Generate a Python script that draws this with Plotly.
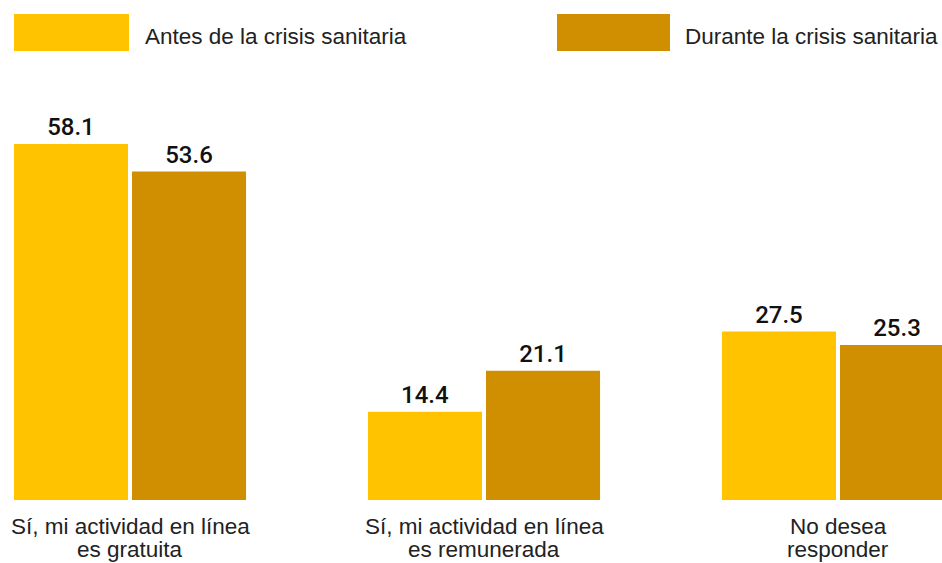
import plotly.graph_objects as go

category_lines = [["Sí, mi actividad en línea", "es gratuita"],
                  ["Sí, mi actividad en línea", "es remunerada"],
                  ["No desea", "responder"]]
categories = [" ".join(lines) for lines in category_lines]
antes = [58.1, 14.4, 27.5]
durante = [53.6, 21.1, 25.3]
series_names = ["Antes de la crisis sanitaria", "Durante la crisis sanitaria"]
colors = ["#FFC300", "#D08F00"]

W, H = 942, 563
PH = 500  # plot height (baseline at y=500)
FONT = "Liberation Sans, Arial, sans-serif"

fig = go.Figure()
for name, vals, col in zip(series_names, [antes, durante], colors):
    fig.add_trace(go.Bar(
        x=categories, y=vals, name=name, marker=dict(color=col, line=dict(width=0)),
        text=[f"{v:.1f}" for v in vals], textposition="outside",
        textfont=dict(family="Roboto, Liberation Sans, sans-serif", size=24,
                      color="#111111", weight=500),
        cliponaxis=False, showlegend=False,
    ))

r0 = -130 / 354
fig.update_layout(
    width=W, height=H,
    margin=dict(l=0, r=0, t=0, b=H - PH),
    plot_bgcolor="white", paper_bgcolor="white",
    barmode="group", bargap=0.333, bargroupgap=0.034,
    font=dict(family=FONT, size=22, color="#222222"),
    xaxis=dict(range=[r0, r0 + W / 354], showgrid=False, showline=False,
               showticklabels=False, ticks=""),
    yaxis=dict(range=[0, PH / 6.127], visible=False),
)

# category labels, one annotation per line (tight line spacing)
for cat, lines in zip(categories, category_lines):
    for i, line in enumerate(lines):
        py = 526 + 23 * i
        fig.add_annotation(xref="x", yref="paper", x=cat, y=1 - py / PH,
                           text=line, showarrow=False, xanchor="center",
                           yanchor="middle",
                           font=dict(family=FONT, size=22.5, color="#222222"))

# legend drawn as shapes + annotations (large swatches)
legend_items = [(14, 129, 143), (557, 670, 683)]
for (x0, x1, tx), name, col in zip(legend_items, series_names, colors):
    fig.add_shape(type="rect", xref="paper", yref="paper",
                  x0=x0 / W, x1=x1 / W, y0=1 - 51 / PH, y1=1 - 14 / PH,
                  fillcolor=col, line=dict(width=0))
    fig.add_annotation(xref="paper", yref="paper", x=tx / W, y=1 - 37 / PH,
                       text=name, showarrow=False, xanchor="left", yanchor="middle",
                       font=dict(family=FONT, size=22.5, color="#222222"))

fig.write_html("out.html", config={"displayModeBar": False},
               post_script="document.body.style.margin='0';document.body.style.overflow='hidden';")
